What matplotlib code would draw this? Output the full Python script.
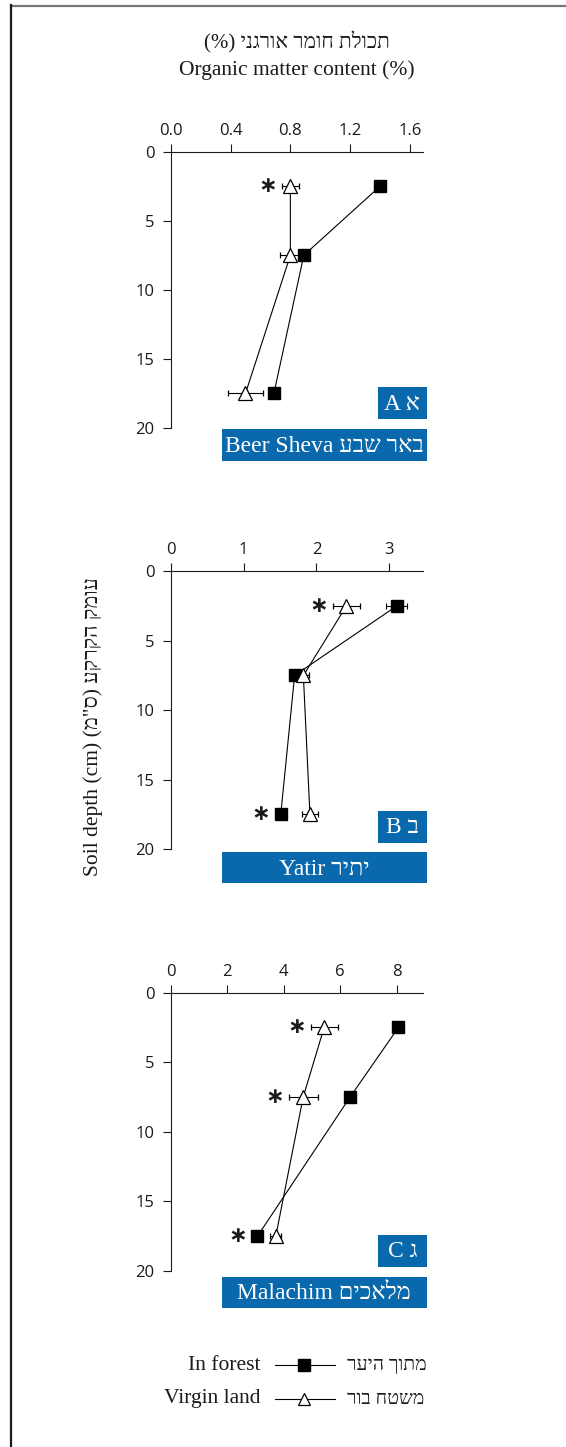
import matplotlib
matplotlib.use("Agg")
import matplotlib.pyplot as plt
from matplotlib.lines import Line2D
from matplotlib.patches import Rectangle
import numpy as np

plt.rcParams['font.family'] = ['Liberation Serif', 'DejaVu Sans']

W, H = 566, 1447

# depth of each sampled soil layer (cm)
depths = [2.5, 7.5, 17.5]

sites = ['Beer Sheva', 'Yatir', 'Malachim']
sites_he = ['באר שבע', 'יתיר', 'מלאכים']
letters = ['A', 'B', 'C']
letters_he = ['א', 'ב', 'ג']

# organic matter content (%) per site, top layer first
forest = [[1.40, 0.89, 0.69],
          [3.10, 1.70, 1.51],
          [8.06, 6.35, 3.07]]
forest_err = [[0.02, 0.02, 0.02],
              [0.14, 0.03, 0.03],
              [0.05, 0.05, 0.05]]
virgin = [[0.80, 0.80, 0.50],
          [2.41, 1.82, 1.91],
          [5.43, 4.69, 3.72]]
virgin_err = [[0.055, 0.07, 0.12],
              [0.19, 0.08, 0.11],
              [0.48, 0.52, 0.20]]

# significant differences: (series, layer index)
signif = [[('virgin', 0)],
          [('virgin', 0), ('forest', 2)],
          [('virgin', 0), ('virgin', 1), ('forest', 2)]]

xticks = [[0.0, 0.4, 0.8, 1.2, 1.6], [0, 1, 2, 3], [0, 2, 4, 6, 8]]
xticklabels = [['0.0', '0.4', '0.8', '1.2', '1.6'],
               ['0', '1', '2', '3'],
               ['0', '2', '4', '6', '8']]
xmax = [1.685, 3.457, 8.92]
yticks = [0, 5, 10, 15, 20]

title_he = 'תכולת חומר אורגני'
title_en = 'Organic matter content (%)'
ylabel_he = 'עומק הקרקע'
ylabel_en = 'Soil depth (cm)'
legend_en = ['In forest', 'Virgin land']
legend_he = ['מתוך היער', 'משטח בור']

BLUE = '#0a69ad'
INK = '#1a1a1a'

mirror = str.maketrans('()', ')(')


def rtl(s):
    # matplotlib lays text out left to right, so flip Hebrew runs by hand
    return s[::-1].translate(mirror)


def fx(x):
    return x / W


def fy(y):
    return 1 - y / H


fig = plt.figure(figsize=(W / 100, H / 100), dpi=100)

# frame lines on the top and left edges
fig.add_artist(Line2D([fx(11), 1], [fy(5.5), fy(5.5)], color='#777777', lw=1.6))
fig.add_artist(Line2D([fx(11), fx(11)], [fy(5), 0], color=INK, lw=1.6))

fig.text(fx(297), fy(42), '(%) ' + rtl(title_he), ha='center', va='center', fontsize=15, color=INK)
fig.text(fx(297), fy(70), title_en, ha='center', va='center', fontsize=15.5, color=INK)
fig.text(fx(93), fy(727), ylabel_en + ' (מ"ס) ' + rtl(ylabel_he), rotation=90,
         ha='center', va='center', fontsize=15.5, color=INK)

# pixel rows of each panel: axis top, axis bottom, letter box, name box
panel_rows = [(151.7, 428.0, (387.3, 419.0), (429.3, 461.0)),
              (571.3, 849.0, (811.0, 842.7), (852.0, 883.3)),
              (992.7, 1271.0, (1235.0, 1266.7), (1276.7, 1308.3))]
ax_left, ax_right = 170.7, 422.7

for i in range(3):
    top, bot, lbox, nbox = panel_rows[i]
    ax = fig.add_axes([fx(ax_left), fy(bot), (ax_right - ax_left) / W, (bot - top) / H])
    ax.set_xlim(0, xmax[i])
    ax.set_ylim(20, 0)
    ax.patch.set_alpha(0)
    for s in ['right', 'bottom']:
        ax.spines[s].set_visible(False)
    for s in ['left', 'top']:
        ax.spines[s].set_linewidth(0.8)
        ax.spines[s].set_color(INK)
    ax.xaxis.tick_top()
    ax.set_xticks(xticks[i])
    ax.set_xticklabels(xticklabels[i])
    ax.set_yticks(yticks)
    ax.tick_params(direction='out', length=6, width=0.8, color=INK, labelsize=12,
                   labelcolor=INK, labelfontfamily='Open Sans')
    ax.tick_params(axis='x', pad=3.5)
    ax.tick_params(axis='y', pad=5.5)

    ax.errorbar(forest[i], depths, xerr=forest_err[i], color='black', lw=0.8,
                elinewidth=0.8, capsize=2, capthick=0.8, marker='s', ms=8,
                mfc='black', mec='black', zorder=3)
    ax.errorbar(virgin[i], depths, xerr=virgin_err[i], color='black', lw=0.8,
                elinewidth=0.8, capsize=2, capthick=0.8, marker='^', ms=10,
                mfc='white', mec='black', mew=0.9, zorder=4)

    px_per_unit = (ax_right - ax_left) / xmax[i]
    for series, k in signif[i]:
        vals = forest[i] if series == 'forest' else virgin[i]
        errs = forest_err[i] if series == 'forest' else virgin_err[i]
        reach = max(errs[k] * px_per_unit, 6)
        ax.annotate('∗', xy=(vals[k], depths[k]), xytext=(-(reach + 14), 0),
                    textcoords='offset pixels', ha='center', va='center',
                    fontsize=16, fontweight='bold', family='DejaVu Sans', color=INK)

    # panel letter and site name boxes
    fig.add_artist(Rectangle((fx(378), fy(lbox[1])), 48.7 / W, (lbox[1] - lbox[0]) / H,
                             transform=fig.transFigure, color=BLUE, lw=0))
    fig.text(fx(402.3), fy((lbox[0] + lbox[1]) / 2 + 1), letters[i] + ' ' + letters_he[i],
             ha='center', va='center', color='white', fontsize=17)
    fig.add_artist(Rectangle((fx(222), fy(nbox[1])), 204.7 / W, (nbox[1] - nbox[0]) / H,
                             transform=fig.transFigure, color=BLUE, lw=0))
    fig.text(fx(324.3), fy((nbox[0] + nbox[1]) / 2 + 1), sites[i] + ' ' + rtl(sites_he[i]),
             ha='center', va='center', color='white', fontsize=17)

# legend drawn by hand: English on the left, Hebrew on the right
legend_marks = [dict(marker='s', ms=8, mfc='black', mec='black'),
                dict(marker='^', ms=9, mfc='white', mec='black', mew=0.9)]
for r, y in enumerate([1365, 1399]):
    fig.text(fx(260), fy(y), legend_en[r], ha='right', va='center', fontsize=15.5, color=INK)
    fig.add_artist(Line2D([fx(275), fx(304), fx(335)], [fy(y)] * 3, color='black', lw=0.8,
                          markevery=[1], **legend_marks[r]))
    fig.text(fx(346.7), fy(y), rtl(legend_he[r]), ha='left', va='center', fontsize=14, color=INK)

fig.savefig('out.png', dpi=100)
